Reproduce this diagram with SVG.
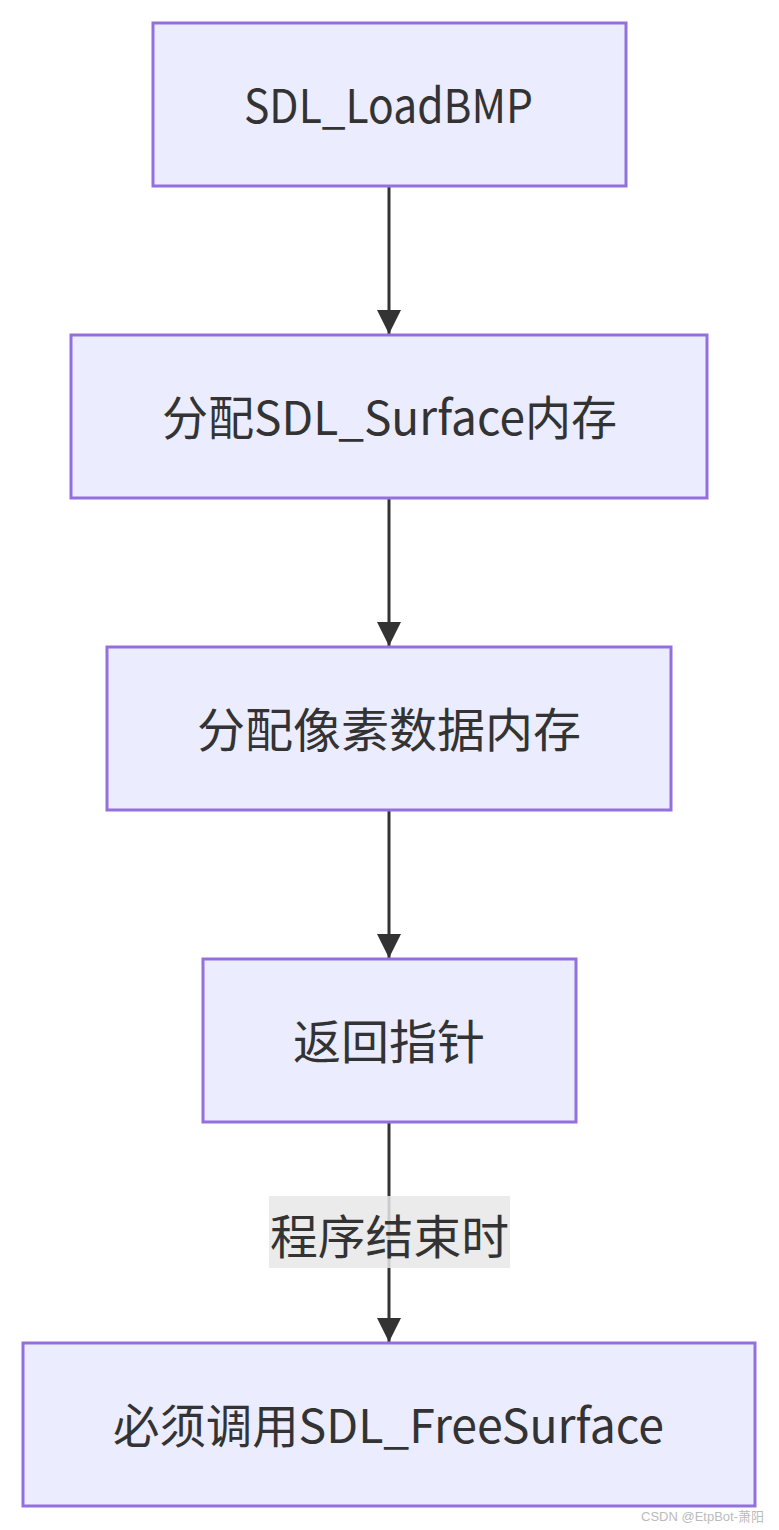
<svg xmlns="http://www.w3.org/2000/svg" width="779" height="1530" viewBox="0 0 779 1530">
<style>
.node rect{fill:#ECECFF;stroke:#9370DB;stroke-width:3}
.node text,.lbl text{font-family:"Noto Sans CJK SC","Noto Sans",sans-serif;font-size:47px;fill:#333;text-anchor:middle;dominant-baseline:central}
.edge{stroke:#333;stroke-width:3;fill:none}
.lbl rect{fill:#E8E8E8;opacity:0.85}
.wm{font-family:"Liberation Sans","Noto Sans CJK SC",sans-serif;font-size:13px;fill:#bbb}
</style>
<defs>
<marker id="arrow" viewBox="0 0 12 12" refX="12" refY="6" markerWidth="8" markerHeight="8" markerUnits="strokeWidth" orient="auto">
<path d="M0,0 L12,6 L0,12 z" fill="#333"/>
</marker>
</defs>
<rect width="779" height="1530" fill="#fff"/>
<g id="edges">
<line class="edge" x1="389" y1="186" x2="389" y2="334" marker-end="url(#arrow)"/>
<line class="edge" x1="389" y1="498" x2="389" y2="646" marker-end="url(#arrow)"/>
<line class="edge" x1="389" y1="810" x2="389" y2="958" marker-end="url(#arrow)"/>
<line class="edge" x1="389" y1="1122" x2="389" y2="1342" marker-end="url(#arrow)"/>
<g class="lbl" id="edge-label">
<rect x="269" y="1196" width="241" height="72"/>
<text x="389.5" y="1233" textLength="239" lengthAdjust="spacingAndGlyphs">程序结束时</text>
</g>
</g>
<g class="node" id="n1"><rect x="153" y="23" width="473" height="163"/><text x="388.5" y="102" textLength="289" lengthAdjust="spacingAndGlyphs">SDL_LoadBMP</text></g>
<g class="node" id="n2"><rect x="71" y="335" width="636" height="163"/><text x="389.5" y="414" textLength="455" lengthAdjust="spacingAndGlyphs">分配SDL_Surface内存</text></g>
<g class="node" id="n3"><rect x="107" y="647" width="564" height="163"/><text x="389" y="726" textLength="384" lengthAdjust="spacingAndGlyphs">分配像素数据内存</text></g>
<g class="node" id="n4"><rect x="203" y="959" width="373" height="163"/><text x="389" y="1038" textLength="192" lengthAdjust="spacingAndGlyphs">返回指针</text></g>
<g class="node" id="n5"><rect x="23" y="1343" width="732" height="163"/><text x="388.5" y="1422" textLength="551" lengthAdjust="spacingAndGlyphs">必须调用SDL_FreeSurface</text></g>
<text class="wm" x="641" y="1521">CSDN @EtpBot-萧阳</text>
</svg>
